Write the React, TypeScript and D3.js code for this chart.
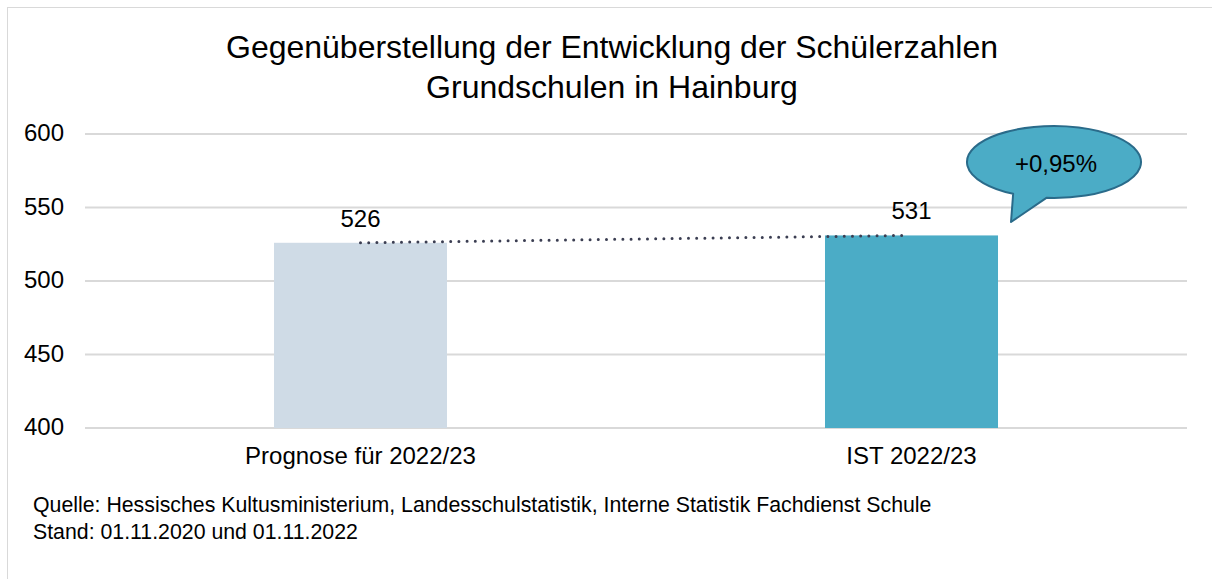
import { useEffect, useRef } from "react";
import * as d3 from "d3";

const categories = ["Prognose für 2022/23", "IST 2022/23"];
const values = [526, 531];
const barColors = ["#cfdbe6", "#4bacc6"];
const yTicks = [400, 450, 500, 550, 600];
const titleLines = [
  "Gegenüberstellung der Entwicklung der Schülerzahlen",
  "Grundschulen in Hainburg",
];
const calloutText = "+0,95%";
const footnotes = [
  "Quelle: Hessisches Kultusministerium, Landesschulstatistik, Interne Statistik Fachdienst Schule",
  "Stand: 01.11.2020 und 01.11.2022",
];

const W = 1212;
const H = 579;
const FONT = "Arial, 'Liberation Sans', sans-serif";

export default function App() {
  const svgRef = useRef<SVGSVGElement>(null);

  useEffect(() => {
    const svg = d3.select(svgRef.current);
    svg.selectAll("*").remove();

    const left = 85;
    const right = 1187;
    const top = 134;
    const bottom = 428;

    const x = d3.scaleBand<string>().domain(categories).range([left, right]).padding(0);
    const y = d3.scaleLinear().domain([400, 600]).range([bottom, top]);
    const barW = x.bandwidth() * 0.314;
    const cx = (c: string) => (x(c) as number) + x.bandwidth() / 2;

    // frame
    svg.append("rect")
      .attr("x", 7.5).attr("y", 7.5)
      .attr("width", W).attr("height", H)
      .attr("fill", "#fff")
      .attr("stroke", "#d9d9d9").attr("stroke-width", 1);

    // title
    svg.append("text")
      .attr("x", 612).attr("y", 58)
      .attr("text-anchor", "middle")
      .attr("font-family", FONT).attr("font-size", 32).attr("fill", "#000")
      .selectAll("tspan")
      .data(titleLines)
      .enter()
      .append("tspan")
      .attr("x", 612)
      .attr("dy", (d, i) => (i === 0 ? 0 : 40))
      .text(d => d);

    // gridlines
    svg.append("g")
      .selectAll("line")
      .data(yTicks)
      .enter()
      .append("line")
      .attr("x1", left).attr("x2", right)
      .attr("y1", d => y(d)).attr("y2", d => y(d))
      .attr("stroke", "#d9d9d9").attr("stroke-width", 2);

    // y tick labels
    svg.append("g")
      .selectAll("text")
      .data(yTicks)
      .enter()
      .append("text")
      .attr("x", 64).attr("y", d => y(d) + 7)
      .attr("text-anchor", "end")
      .attr("font-family", FONT).attr("font-size", 24).attr("fill", "#000")
      .text(d => d);

    // bars
    svg.append("g")
      .selectAll("rect")
      .data(values)
      .enter()
      .append("rect")
      .attr("x", (d, i) => cx(categories[i]) - barW / 2)
      .attr("y", d => y(d))
      .attr("width", barW)
      .attr("height", d => y(400) - y(d))
      .attr("fill", (d, i) => barColors[i]);

    // dotted trend line
    svg.append("line")
      .attr("x1", cx(categories[0])).attr("y1", y(values[0]))
      .attr("x2", cx(categories[1]) - 4).attr("y2", y(values[1]))
      .attr("stroke", "#3b3e52").attr("stroke-width", 3)
      .attr("stroke-linecap", "round")
      .attr("stroke-dasharray", "0 8.2");

    // value labels
    svg.append("g")
      .selectAll("text")
      .data(values)
      .enter()
      .append("text")
      .attr("x", (d, i) => cx(categories[i]))
      .attr("y", d => y(d) - 16)
      .attr("text-anchor", "middle")
      .attr("font-family", FONT).attr("font-size", 24).attr("fill", "#000")
      .text(d => d);

    // category labels
    svg.append("g")
      .selectAll("text")
      .data(categories)
      .enter()
      .append("text")
      .attr("x", d => cx(d))
      .attr("y", 464)
      .attr("text-anchor", "middle")
      .attr("font-family", FONT).attr("font-size", 24).attr("fill", "#000")
      .text(d => d);

    // callout bubble
    const ecx = 1054, ecy = 162, rx = 87, ry = 36;
    const a1 = (118 * Math.PI) / 180;
    const a2 = (95 * Math.PI) / 180;
    const p1 = [ecx + rx * Math.cos(a1), ecy + ry * Math.sin(a1)];
    const p2 = [ecx + rx * Math.cos(a2), ecy + ry * Math.sin(a2)];
    const tip = [1011, 222];
    const bubble =
      `M${p2[0]},${p2[1]} A${rx},${ry} 0 1 0 ${p1[0]},${p1[1]} L${tip[0]},${tip[1]} Z`;
    svg.append("path")
      .attr("d", bubble)
      .attr("fill", "#4bacc6")
      .attr("stroke", "#2a6b8a").attr("stroke-width", 2)
      .attr("stroke-linejoin", "round");
    svg.append("text")
      .attr("x", 1056).attr("y", 172)
      .attr("text-anchor", "middle")
      .attr("font-family", FONT).attr("font-size", 24).attr("fill", "#000")
      .text(calloutText);

    // footnotes
    svg.append("g")
      .selectAll("text")
      .data(footnotes)
      .enter()
      .append("text")
      .attr("x", 33)
      .attr("y", (d, i) => 512 + i * 26.5)
      .attr("font-family", FONT).attr("font-size", 21.3).attr("fill", "#000")
      .text(d => d);
  }, []);

  return (
    <svg
      ref={svgRef}
      width={W}
      height={H}
      style={{ position: "absolute", left: 0, top: 0, display: "block" }}
    />
  );
}
